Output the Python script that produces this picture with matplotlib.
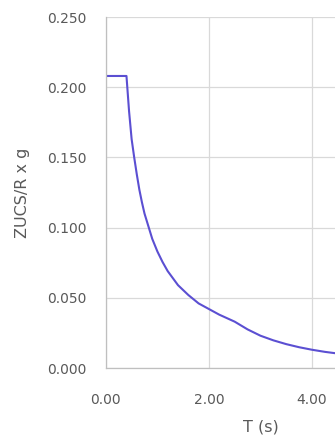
import numpy as np
import matplotlib
matplotlib.use("Agg")
import matplotlib.pyplot as plt

# periodo T (s) vs ZUCS/R x g
T = [0.0, 0.4, 0.45, 0.5, 0.55, 0.6, 0.65, 0.7, 0.75, 0.8, 0.9, 1.0, 1.1,
     1.2, 1.3, 1.4, 1.6, 1.8, 2.0, 2.2, 2.5, 2.75, 3.0, 3.25, 3.5, 3.75,
     4.0, 4.25, 4.5, 5.0]
Sa = [0.208, 0.208, 0.183, 0.163, 0.150, 0.138, 0.127, 0.118, 0.110, 0.104,
      0.092, 0.083, 0.0755, 0.069, 0.064, 0.059, 0.052, 0.046, 0.042, 0.038,
      0.033, 0.0275, 0.023, 0.0197, 0.017, 0.0148, 0.013, 0.0115, 0.0103,
      0.0083]

xticks = [0, 2, 4]
yticks = [0.0, 0.05, 0.10, 0.15, 0.20, 0.25]

plt.rcParams['font.family'] = ['DejaVu Sans']
grey = '#595959'

fig = plt.figure(figsize=(3.35, 4.43), dpi=100)
ax = fig.add_axes([0.316, 0.1693, 0.923, 0.7923])

ax.plot(T, Sa, color='#5B4FD2', lw=1.5)

ax.set_xlim(0, 6)
ax.set_ylim(0, 0.25)
ax.set_xticks(xticks)
ax.set_yticks(yticks)
ax.xaxis.set_major_formatter(plt.FormatStrFormatter('%.2f'))
ax.yaxis.set_major_formatter(plt.FormatStrFormatter('%.3f'))
ax.tick_params(length=0, labelsize=10, colors=grey)
ax.tick_params(axis='x', pad=18)
ax.tick_params(axis='y', pad=14)
ax.grid(True, color='#d9d9d9', lw=0.9)
ax.set_axisbelow(True)
for s in ['top', 'right']:
    ax.spines[s].set_visible(False)
for s in ['left', 'bottom']:
    ax.spines[s].set_color('#bfbfbf')
    ax.spines[s].set_linewidth(0.9)

ax.set_xlabel('T (s)', fontsize=11.5, color=grey, labelpad=9)
ax.set_ylabel('ZUCS/R x g', fontsize=11.5, color=grey, labelpad=12)

fig.savefig('out.png', dpi=100)
